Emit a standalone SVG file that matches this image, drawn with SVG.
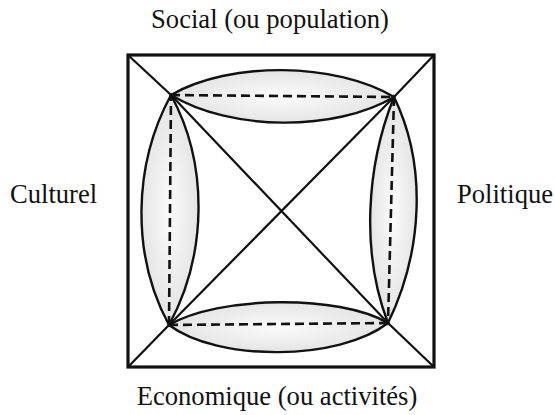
<svg xmlns="http://www.w3.org/2000/svg" width="555" height="415" viewBox="0 0 555 415">
<style>
.lbl{font-family:"Liberation Serif","Times New Roman",serif;font-size:26.6px;fill:#111}
.lens{stroke:#111;stroke-width:2.4}
.line{stroke:#111;stroke-width:2.2;fill:none}
.dash{stroke:#111;stroke-width:2.6;stroke-dasharray:9 5;fill:none}
</style>
<defs>
<radialGradient id="g" cx="50%" cy="50%" r="55%">
<stop offset="0" stop-color="#fbfbfb"/>
<stop offset="1" stop-color="#e2e2e2"/>
</radialGradient>
</defs>
<rect width="555" height="415" fill="#fff"/>
<g id="frame">
<rect x="128" y="55" width="306" height="312" fill="none" stroke="#111" stroke-width="3.2"/>
</g>
<g id="lens-social"><path class="lens" fill="url(#g)" d="M171,95 C230,61 335,62 394,97 C335,132 230,131 171,95 Z"/></g>
<g id="lens-economique"><path class="lens" fill="url(#g)" d="M169,325 C218,296 339,294 388,323 C339,361 218,362 169,325 Z"/></g>
<g id="lens-culturel"><path class="lens" fill="url(#g)" d="M171,95 C133,165 131,255 169,325 C207,255 209,165 171,95 Z"/></g>
<g id="lens-politique"><path class="lens" fill="url(#g)" d="M394,97 C366,167 361,253 388,323 C422,253 428,167 394,97 Z"/></g>
<g id="connectors">
<polyline class="line" points="128,55 171,95 388,323 434,367"/>
<polyline class="line" points="434,55 394,97 169,325 128,367"/>
<line class="dash" x1="171" y1="95" x2="394" y2="97"/>
<line class="dash" x1="394" y1="97" x2="388" y2="323"/>
<line class="dash" x1="388" y1="323" x2="169" y2="325"/>
<line class="dash" x1="169" y1="325" x2="171" y2="95"/>
</g>
<g id="labels">
<text class="lbl" x="270" y="28" text-anchor="middle">Social (ou population)</text>
<text class="lbl" x="10" y="203">Culturel</text>
<text class="lbl" x="457" y="203">Politique</text>
<text class="lbl" x="277" y="405" text-anchor="middle">Economique (ou activités)</text>
</g>
</svg>
